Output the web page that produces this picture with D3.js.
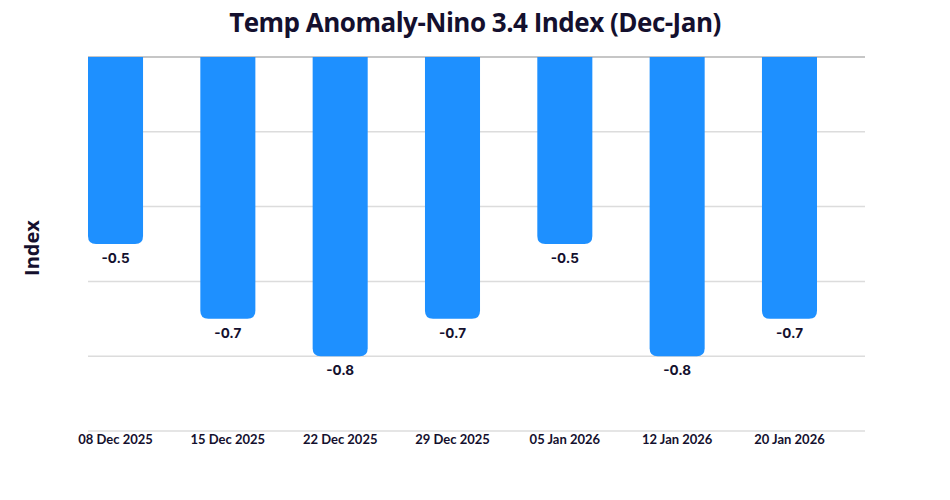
<!DOCTYPE html>
<html>
<head>
<meta charset="utf-8">
<script src="https://cdn.jsdelivr.net/npm/d3@7"></script>
<style>
  body { margin: 0; background: #fff; }
  svg { display: block; }
</style>
</head>
<body>
<div id="chart"></div>
<script>
// --- data ---
const dates = ['08 Dec 2025', '15 Dec 2025', '22 Dec 2025', '29 Dec 2025', '05 Jan 2026', '12 Jan 2026', '20 Jan 2026'];
const values = [-0.5, -0.7, -0.8, -0.7, -0.5, -0.8, -0.7];
const gridTicks = [0, -0.2, -0.4, -0.6, -0.8, -1.0];

const width = 950;
const height = 500;
const ink = '#14102e';

const svg = d3.select('#chart').append('svg')
  .attr('width', width)
  .attr('height', height);

// --- scales ---
const x = d3.scaleBand()
  .domain(dates)
  .range([88, 817])
  .paddingInner(0.51)
  .paddingOuter(0);

const y = d3.scaleLinear()
  .domain([0, -1.0])
  .range([57, 431]);

// gridlines
svg.append('g')
  .selectAll('line')
  .data(gridTicks)
  .join('line')
  .attr('x1', 88)
  .attr('x2', 865)
  .attr('y1', d => y(d))
  .attr('y2', d => y(d))
  .attr('stroke', d => d === 0 ? '#b3b3b3' : '#dcdcdc')
  .attr('stroke-width', 1.5);

// bars hanging from zero with rounded bottom corners
const r = 8;
function barPath(d, i) {
  const x0 = x(dates[i]);
  const w = x.bandwidth();
  const y0 = y(0);
  const y1 = y(d);
  return `M${x0},${y0}H${x0 + w}V${y1 - r}Q${x0 + w},${y1} ${x0 + w - r},${y1}` +
    `H${x0 + r}Q${x0},${y1} ${x0},${y1 - r}Z`;
}

svg.append('g')
  .selectAll('path')
  .data(values)
  .join('path')
  .attr('d', barPath)
  .attr('fill', '#1e90ff');

// value labels
svg.append('g')
  .selectAll('text')
  .data(values)
  .join('text')
  .attr('x', (d, i) => x(dates[i]) + x.bandwidth() / 2)
  .attr('y', d => y(d) + 19)
  .attr('text-anchor', 'middle')
  .attr('font-family', 'Inter, "Open Sans", sans-serif')
  .attr('font-weight', 700)
  .attr('font-size', 13.5)
  .attr('fill', ink)
  .text(d => d.toFixed(1));

// x axis labels
const xAxis = d3.axisBottom(x).tickSize(0).tickPadding(0);
const gx = svg.append('g')
  .attr('transform', `translate(0, ${y(-1.0) + 4})`)
  .call(xAxis);
gx.select('.domain').remove();
gx.selectAll('text')
  .attr('dy', '0.71em')
  .attr('font-family', 'Lato, sans-serif')
  .attr('font-weight', 700)
  .attr('font-size', 13)
  .attr('fill', ink);

// title
svg.append('text')
  .attr('x', 475)
  .attr('y', 32)
  .attr('text-anchor', 'middle')
  .attr('font-family', '"Open Sans", sans-serif')
  .attr('font-weight', 700)
  .attr('font-size', 26)
  .attr('letter-spacing', -0.5)
  .attr('fill', ink)
  .text('Temp Anomaly-Nino 3.4 Index (Dec-Jan)');

// y axis title
svg.append('text')
  .attr('transform', 'translate(39, 248) rotate(-90)')
  .attr('text-anchor', 'middle')
  .attr('font-family', '"Open Sans", sans-serif')
  .attr('font-weight', 700)
  .attr('font-size', 20)
  .attr('fill', ink)
  .text('Index');
</script>
</body>
</html>
